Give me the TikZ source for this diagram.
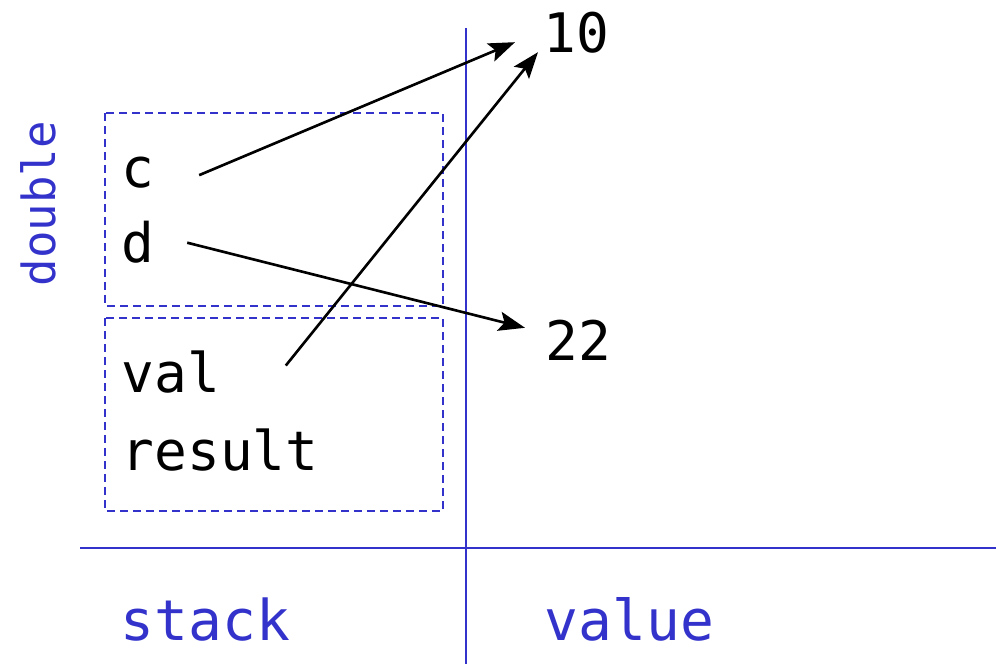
\documentclass[tikz,border=0pt]{standalone}
\usepackage{fontspec}
\setmonofont{DejaVu Sans Mono}
\usetikzlibrary{arrows.meta}

\definecolor{axisblue}{RGB}{51,51,204}

\begin{document}
\begin{tikzpicture}[x=0.02cm, y=-0.02cm, thick,
    word/.style={font=\ttfamily\fontsize{31}{36}\selectfont, inner sep=0pt, anchor=base west},
    label/.style={word, text=axisblue, font=\ttfamily\fontsize{32}{36}\selectfont},
    frame/.style={draw=axisblue, line width=0.9pt, dash pattern=on 0.16cm off 0.1cm},
    link/.style={line width=1.5pt, -{Stealth[length=15pt, width=11pt, inset=3pt]}}]
  \useasboundingbox (0,0) rectangle (996,664);

  % stack / value axes
  \draw[axisblue, line width=1.4pt] (466,28) -- (466,664);
  \draw[axisblue, line width=1.4pt] (80,548) -- (996,548);

  % frames of the two calls
  \draw[frame] (105,113) rectangle (443,306);
  \draw[frame] (105,318) rectangle (443,511);

  % variables
  \node[word] (c)      at (121,187) {c};
  \node[word] (d)      at (121,262) {d};
  \node[word] (val)    at (121,392) {val};
  \node[word] (result) at (121,470) {result};

  % values
  \node[word] (ten)        at (543,52)  {10};
  \node[word] (twentytwo)  at (545,360) {22};

  % labels
  \node[label] (stack) at (120,640) {stack};
  \node[label] (value) at (544,640) {value};
  \node[label, font=\ttfamily\fontsize{26}{30}\selectfont, rotate=90] (double) at (55,287) {double};

  % bindings
  \draw[link] ([shift={(44,3)}]c.east)   -- ([shift={(-28,10)}]ten.west);
  \draw[link] ([shift={(32,1)}]d.east)   -- ([shift={(-20,-12)}]twentytwo.west);
  \draw[link] ([shift={(65,-6)}]val.east) -- ([shift={(-5,20)}]ten.west);
\end{tikzpicture}
\end{document}
